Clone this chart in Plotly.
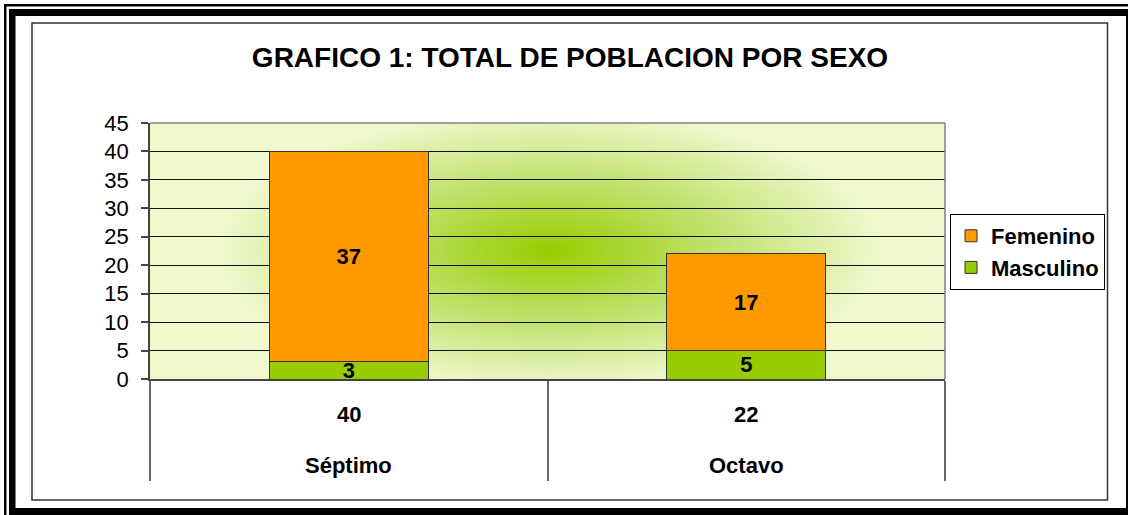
import base64
import plotly.graph_objects as go

# ---- data ----
categories = ["Séptimo", "Octavo"]
masculino = [3, 5]
femenino = [37, 17]
series_names = ["Masculino", "Femenino"]
title_text = "GRAFICO 1: TOTAL DE POBLACION POR SEXO"
y_ticks = [0, 5, 10, 15, 20, 25, 30, 35, 40, 45]
totals = [m + f for m, f in zip(masculino, femenino)]

# ---- geometry (pixels) ----
W, H = 1128, 515
PL, PR, PT, PB = 150, 945, 123, 379  # plot area


def px(x):
    return (x - PL) / (PR - PL)


def py(y):
    return (PB - y) / (PB - PT)


FONT = "Arial, 'Liberation Sans', sans-serif"

# radial gradient background for plot area
svg = (
    '<svg xmlns="http://www.w3.org/2000/svg" width="795" height="256" '
    'viewBox="0 0 795 256" preserveAspectRatio="none">'
    '<defs><radialGradient id="g" gradientUnits="userSpaceOnUse" cx="400" cy="127" r="330" '
    'gradientTransform="translate(400 127) scale(1 0.42) translate(-400 -127)">'
    '<stop offset="0" stop-color="#99CC00"/>'
    '<stop offset="0.5" stop-color="#C0E16C"/>'
    '<stop offset="1" stop-color="#EEF8CC"/>'
    '</radialGradient></defs>'
    '<rect width="795" height="256" fill="#EEF8CC"/>'
    '<rect width="795" height="256" fill="url(#g)"/></svg>'
)
svg_uri = "data:image/svg+xml;base64," + base64.b64encode(svg.encode()).decode()

fig = go.Figure()
fig.add_trace(go.Bar(
    x=categories, y=masculino, name=series_names[0],
    marker=dict(color="#99CC00", line=dict(color="#333333", width=1)),
    text=[str(v) for v in masculino], textposition="inside",
    insidetextanchor="middle", textangle=0,
    textfont=dict(family=FONT, size=22, color="black", weight="bold"),
    width=0.4,
))
fig.add_trace(go.Bar(
    x=categories, y=femenino, name=series_names[1],
    marker=dict(color="#FF9900", line=dict(color="#333333", width=1)),
    text=[str(v) for v in femenino], textposition="inside",
    insidetextanchor="middle", textangle=0,
    textfont=dict(family=FONT, size=22, color="black", weight="bold"),
    width=0.4,
))

shapes = []
# plot border (top/right gray)
shapes.append(dict(type="line", xref="paper", yref="paper", x0=0, x1=1, y0=1, y1=1,
                   line=dict(color="#808080", width=1.5)))
shapes.append(dict(type="line", xref="paper", yref="paper", x0=1, x1=1, y0=0, y1=1,
                   line=dict(color="#808080", width=1.5)))
# chart-area box
shapes.append(dict(type="rect", xref="paper", yref="paper",
                   x0=px(32), x1=px(1107.5), y0=py(500), y1=py(23),
                   line=dict(color="#333333", width=1.5), layer="below"))
# outer frame: thin line
shapes.append(dict(type="rect", xref="paper", yref="paper",
                   x0=px(4), x1=px(1140), y0=py(4), y1=py(6.5),
                   fillcolor="black", line=dict(width=0)))
shapes.append(dict(type="rect", xref="paper", yref="paper",
                   x0=px(4), x1=px(6.5), y0=py(4), y1=py(530),
                   fillcolor="black", line=dict(width=0)))
# outer frame: thick line
shapes.append(dict(type="rect", xref="paper", yref="paper",
                   x0=px(9), x1=px(1126), y0=py(9), y1=py(16),
                   fillcolor="black", line=dict(width=0)))
shapes.append(dict(type="rect", xref="paper", yref="paper",
                   x0=px(9), x1=px(15.5), y0=py(9), y1=py(530),
                   fillcolor="black", line=dict(width=0)))
shapes.append(dict(type="rect", xref="paper", yref="paper",
                   x0=px(9), x1=px(1140), y0=py(508), y1=py(530),
                   fillcolor="black", line=dict(width=0)))
shapes.append(dict(type="rect", xref="paper", yref="paper",
                   x0=px(1126), x1=px(1140), y0=py(9), y1=py(530),
                   fillcolor="black", line=dict(width=0)))

annotations = []
for cat, tot in zip(categories, totals):
    annotations.append(dict(x=cat, xref="x", y=py(414), yref="paper",
                            yanchor="middle", xanchor="center",
                            text=f"<b>{tot}</b>", showarrow=False,
                            font=dict(family=FONT, size=22, color="black")))
    annotations.append(dict(x=cat, xref="x", y=py(465), yref="paper",
                            yanchor="middle", xanchor="center",
                            text=f"<b>{cat}</b>", showarrow=False,
                            font=dict(family=FONT, size=22, color="black")))

fig.update_layout(
    width=W, height=H,
    margin=dict(l=PL, r=W - PR, t=PT, b=H - PB, pad=0),
    autosize=False,
    barmode="stack",
    paper_bgcolor="white",
    plot_bgcolor="#EEF8CC",
    font=dict(family=FONT, color="black"),
    title=dict(text=f"<b>{title_text}</b>", x=(570) / W, xanchor="center",
               y=1 - 57 / H, yanchor="middle",
               font=dict(family=FONT, size=28, color="black")),
    showlegend=True,
    legend=dict(x=px(950), xanchor="left", y=py(214), yanchor="top",
                traceorder="reversed", bgcolor="white",
                bordercolor="black", borderwidth=1,
                font=dict(family=FONT, size=22, color="black", weight="bold"),
                itemwidth=30),
    uniformtext=dict(minsize=22, mode="show"),
    images=[dict(source=svg_uri, xref="paper", yref="paper", x=0, y=1,
                 sizex=1, sizey=1, sizing="stretch", layer="below",
                 xanchor="left", yanchor="top")],
    shapes=shapes,
    annotations=annotations,
)
fig.update_xaxes(
    type="category", range=[-0.5, 1.5],
    showticklabels=False, tickson="boundaries", ticks="outside",
    ticklen=100, tickwidth=1.5, tickcolor="#666666",
    showline=True, linecolor="#444444", linewidth=1.5,
    showgrid=False, zeroline=False, fixedrange=True,
)
fig.update_yaxes(
    range=[0, 45], tickvals=y_ticks, ticks="outside", ticklen=7,
    tickcolor="#444444", tickwidth=1.5,
    ticklabelstandoff=8,
    tickfont=dict(family=FONT, size=22, color="black"),
    showline=True, linecolor="#444444", linewidth=1.5,
    showgrid=True, gridcolor="#111111", gridwidth=1,
    zeroline=False, fixedrange=True,
)

fig.write_html(
    "out.html",
    config={"displayModeBar": False},
    post_script="document.body.style.margin='0px';document.body.style.overflow='hidden';",
)
